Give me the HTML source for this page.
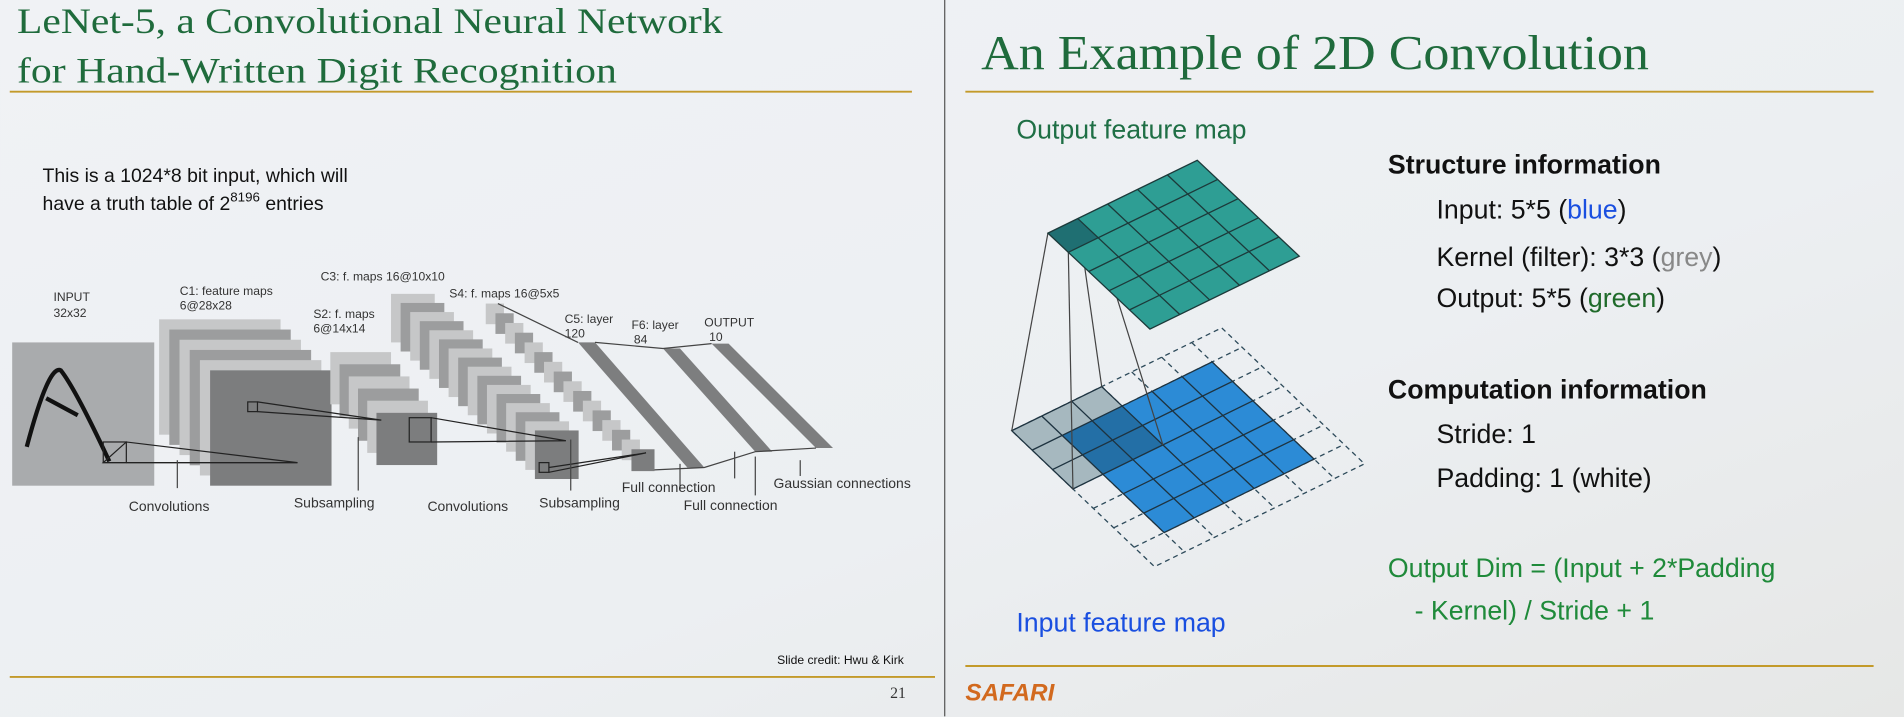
<!DOCTYPE html>
<html><head><meta charset="utf-8"><style>
html,body{margin:0;padding:0;background:#edf0f3;}
svg{display:block}
.s{font-family:"Liberation Sans",sans-serif}
.r{font-family:"Liberation Serif",serif;fill:#1f6b3c}
</style></head><body>
<svg width="1904" height="717" viewBox="0 0 1568 590.5" xmlns="http://www.w3.org/2000/svg">
<defs>
<linearGradient id="bg" x1="0" y1="0" x2="1" y2="1">
<stop offset="0" stop-color="#f0f2f5"/><stop offset="0.6" stop-color="#eceff2"/><stop offset="1" stop-color="#e6e7e6"/>
</linearGradient>
</defs>
<rect width="1568" height="590.5" fill="url(#bg)"/>
<line x1="778" y1="0" x2="778" y2="590" stroke="#555" stroke-width="1"/>
<!-- LEFT -->
<text class="r" x="14" y="27" font-size="30" textLength="581" lengthAdjust="spacingAndGlyphs">LeNet-5, a Convolutional Neural Network</text>
<text class="r" x="14" y="68" font-size="30" textLength="494" lengthAdjust="spacingAndGlyphs">for Hand-Written Digit Recognition</text>
<line x1="8" y1="75.5" x2="751" y2="75.5" stroke="#c39a2a" stroke-width="1.6"/>
<text class="s" x="35" y="150" font-size="16" fill="#111">This is a 1024*8 bit input, which will</text>
<text class="s" x="35" y="173" font-size="16" fill="#111">have a truth table of 2<tspan font-size="11" dy="-7">8196</tspan><tspan dy="7"> entries</tspan></text>

<g class="s" font-size="10" fill="#333">
<text x="44" y="248">INPUT</text><text x="44" y="261">32x32</text>
<text x="148" y="243">C1: feature maps</text><text x="148" y="255">6@28x28</text>
<text x="258" y="262">S2: f. maps</text><text x="258" y="274">6@14x14</text>
<text x="264" y="231">C3: f. maps 16@10x10</text>
<text x="370" y="245">S4: f. maps 16@5x5</text>
<text x="465" y="266">C5: layer</text><text x="465" y="278">120</text>
<text x="520" y="271">F6: layer</text><text x="522" y="283">84</text>
<text x="580" y="269">OUTPUT</text><text x="584" y="281">10</text>
</g>
<rect x="10" y="282" width="117" height="118" fill="#a9abad"/>
<path d="M22,368 Q40,300 50,305 Q62,320 90,380" fill="none" stroke="#111" stroke-width="3.5"/>
<line x1="38" y1="328" x2="64" y2="342" stroke="#111" stroke-width="3.5"/>
<rect x="85" y="364" width="19" height="17" fill="none" stroke="#222" stroke-width="1"/>
<rect x="131" y="263" width="100" height="95" fill="#c6c7c8"/>
<rect x="139.4" y="271.4" width="100" height="95" fill="#9c9d9e"/>
<rect x="147.8" y="279.8" width="100" height="95" fill="#c6c7c8"/>
<rect x="156.2" y="288.2" width="100" height="95" fill="#9c9d9e"/>
<rect x="164.6" y="296.6" width="100" height="95" fill="#c6c7c8"/>
<rect x="173" y="305" width="100" height="95" fill="#7c7d7e"/>
<rect x="204" y="331" width="8" height="8" fill="none" stroke="#222" stroke-width="1"/>
<polygon points="85,381 104,364 245,381" fill="none" stroke="#222" stroke-width="1"/>
<line x1="104" y1="381" x2="245" y2="381" stroke="#222"/>
<rect x="272" y="290" width="50" height="43" fill="#c6c7c8"/>
<rect x="279.6" y="300" width="50" height="43" fill="#9c9d9e"/>
<rect x="287.2" y="310" width="50" height="43" fill="#c6c7c8"/>
<rect x="294.8" y="320" width="50" height="43" fill="#9c9d9e"/>
<rect x="302.4" y="330" width="50" height="43" fill="#c6c7c8"/>
<rect x="310" y="340" width="50" height="43" fill="#7c7d7e"/>
<polyline points="212,331 314,346 212,339" fill="none" stroke="#222"/>
<rect x="337" y="344" width="18" height="20" fill="none" stroke="#222"/>
<g>
<rect x="322" y="242" width="36" height="40" fill="#c6c7c8"/>
<rect x="329.9" y="249.5" width="36" height="40" fill="#9c9d9e"/>
<rect x="337.8" y="257" width="36" height="40" fill="#c6c7c8"/>
<rect x="345.7" y="264.5" width="36" height="40" fill="#9c9d9e"/>
<rect x="353.6" y="272" width="36" height="40" fill="#c6c7c8"/>
<rect x="361.5" y="279.5" width="36" height="40" fill="#9c9d9e"/>
<rect x="369.4" y="287" width="36" height="40" fill="#c6c7c8"/>
<rect x="377.3" y="294.5" width="36" height="40" fill="#9c9d9e"/>
<rect x="385.2" y="302" width="36" height="40" fill="#c6c7c8"/>
<rect x="393.1" y="309.5" width="36" height="40" fill="#9c9d9e"/>
<rect x="401" y="317" width="36" height="40" fill="#c6c7c8"/>
<rect x="408.9" y="324.5" width="36" height="40" fill="#9c9d9e"/>
<rect x="416.8" y="332" width="36" height="40" fill="#c6c7c8"/>
<rect x="424.7" y="339.5" width="36" height="40" fill="#9c9d9e"/>
<rect x="432.6" y="347" width="36" height="40" fill="#c6c7c8"/>
<rect x="440.5" y="354.5" width="36" height="40" fill="#7c7d7e"/>
</g>
<polyline points="355,344 466,363 355,364" fill="none" stroke="#222"/>
<rect x="444" y="381" width="8" height="8" fill="none" stroke="#222"/>
<g>
<rect x="400" y="250" width="15" height="17" fill="#c6c7c8"/>
<rect x="408" y="258" width="15" height="17" fill="#9c9d9e"/>
<rect x="416" y="266" width="15" height="17" fill="#c6c7c8"/>
<rect x="424" y="274" width="15" height="17" fill="#9c9d9e"/>
<rect x="432" y="282" width="15" height="17" fill="#c6c7c8"/>
<rect x="440" y="290" width="15" height="17" fill="#9c9d9e"/>
<rect x="448" y="298" width="15" height="17" fill="#c6c7c8"/>
<rect x="456" y="306" width="15" height="17" fill="#9c9d9e"/>
<rect x="464" y="314" width="15" height="17" fill="#c6c7c8"/>
<rect x="472" y="322" width="15" height="17" fill="#9c9d9e"/>
<rect x="480" y="330" width="15" height="17" fill="#c6c7c8"/>
<rect x="488" y="338" width="15" height="17" fill="#9c9d9e"/>
<rect x="496" y="346" width="15" height="17" fill="#c6c7c8"/>
<rect x="504" y="354" width="15" height="17" fill="#9c9d9e"/>
<rect x="512" y="362" width="15" height="17" fill="#c6c7c8"/>
<rect x="520" y="370" width="19" height="18" fill="#7c7d7e"/>
</g>
<polyline points="452,385 532,373 452,389" fill="none" stroke="#222"/>
<polygon points="476,282 490,282 580,385 566,385" fill="#7d7e7f"/>
<polygon points="546,287 560,287 636,372 622,372" fill="#7d7e7f"/>
<polygon points="586,283 600,283 686,369 672,369" fill="#7d7e7f"/>
<polyline points="410,250 476,282" fill="none" stroke="#444"/>
<polyline points="490,282 546,287 586,283" fill="none" stroke="#444"/>
<polyline points="539,387 580,385 622,372 672,369" fill="none" stroke="#444"/>
<g stroke="#444" stroke-width="1">
<line x1="146" y1="379" x2="146" y2="402"/>
<line x1="295" y1="360" x2="295" y2="404"/>
<line x1="470" y1="362" x2="470" y2="404"/>
<line x1="560" y1="382" x2="560" y2="404"/>
<line x1="605" y1="372" x2="605" y2="394"/>
<line x1="622" y1="376" x2="622" y2="408"/>
<line x1="659" y1="379" x2="659" y2="392"/>
</g>
<g class="s" font-size="11.5" fill="#333">
<text x="106" y="421">Convolutions</text>
<text x="242" y="418">Subsampling</text>
<text x="352" y="421">Convolutions</text>
<text x="444" y="418">Subsampling</text>
<text x="512" y="405">Full connection</text>
<text x="563" y="420">Full connection</text>
<text x="637" y="402">Gaussian connections</text>
</g>
<text class="s" x="640" y="547" font-size="10" fill="#111">Slide credit: Hwu &amp; Kirk</text>
<line x1="8" y1="557.5" x2="770" y2="557.5" stroke="#c39a2a" stroke-width="1.6"/>
<text x="733" y="575" font-size="13" style="fill:#333;font-family:'Liberation Serif',serif">21</text>

<!-- RIGHT -->
<text class="r" x="808" y="57" font-size="40" textLength="550" lengthAdjust="spacingAndGlyphs">An Example of 2D Convolution</text>
<line x1="795" y1="75.5" x2="1543" y2="75.5" stroke="#c39a2a" stroke-width="1.6"/>
<text class="s" x="837" y="114" font-size="22" fill="#1f6f45">Output feature map</text>
<text class="s" x="837" y="520" font-size="22" fill="#1a4fe0">Input feature map</text>

<g transform="matrix(24.7,-12.1,16.8,16,833.2,354.7)">
<path vector-effect="non-scaling-stroke" fill="none" stroke="#2d4a5a" stroke-width="1.3" stroke-dasharray="5,4" d="M0,0H7V7H0Z M1,0V7 M2,0V7 M3,0V7 M4,0V7 M5,0V7 M6,0V7 M0,1H7 M0,2H7 M0,3H7 M0,4H7 M0,5H7 M0,6H7"/>
<rect x="1" y="1" width="5" height="5" fill="#2c8bd6"/>
<rect x="0" y="0" width="3" height="3" fill="#9fb1b9" fill-opacity="0.9"/>
<rect x="1" y="1" width="2" height="2" fill="#236fa6"/>
<path vector-effect="non-scaling-stroke" fill="none" stroke="#1e3340" stroke-width="1.3" d="M1,1H6V6H1Z M2,1V6 M3,1V6 M4,1V6 M5,1V6 M1,2H6 M1,3H6 M1,4H6 M1,5H6 M0,0H3V3H0Z M1,0V3 M2,0V3 M0,1H3 M0,2H3"/>
</g>
<g stroke="#444" stroke-width="1" fill="none">
<line x1="863" y1="192" x2="833.2" y2="354.7"/>
<line x1="879.8" y1="207.8" x2="883.6" y2="402.7"/>
<line x1="887.6" y1="180" x2="907.3" y2="318.4"/>
<line x1="904.4" y1="195.8" x2="957.7" y2="366.4"/>
</g>
<g transform="matrix(24.6,-12,16.8,15.8,863,192)">
<rect x="0" y="0" width="5" height="5" fill="#2e9e94"/>
<rect x="0" y="0" width="1" height="1" fill="#1f6f72"/>
<path vector-effect="non-scaling-stroke" fill="none" stroke="#1c3a3a" stroke-width="1.3" d="M0,0H5V5H0Z M1,0V5 M2,0V5 M3,0V5 M4,0V5 M0,1H5 M0,2H5 M0,3H5 M0,4H5"/>
</g>

<g class="s" font-size="22" fill="#111">
<text x="1143" y="143" font-weight="bold">Structure information</text>
<text x="1183" y="180">Input: 5*5 (<tspan fill="#1a4fe0">blue</tspan>)</text>
<text x="1183" y="219">Kernel (filter): 3*3 (<tspan fill="#888">grey</tspan>)</text>
<text x="1183" y="253">Output: 5*5 (<tspan fill="#1f6a2a">green</tspan>)</text>
<text x="1143" y="328" font-weight="bold">Computation information</text>
<text x="1183" y="365">Stride: 1</text>
<text x="1183" y="401">Padding: 1 (white)</text>
<text x="1143" y="475" fill="#1f8a3a">Output Dim = (Input + 2*Padding</text>
<text x="1165" y="510" fill="#1f8a3a">- Kernel) / Stride + 1</text>
</g>
<line x1="795" y1="548.5" x2="1543" y2="548.5" stroke="#c39a2a" stroke-width="1.6"/>
<text class="s" x="795" y="577" font-size="20" font-weight="bold" font-style="italic" fill="#d2691e">SAFARI</text>
</svg>
</body></html>
